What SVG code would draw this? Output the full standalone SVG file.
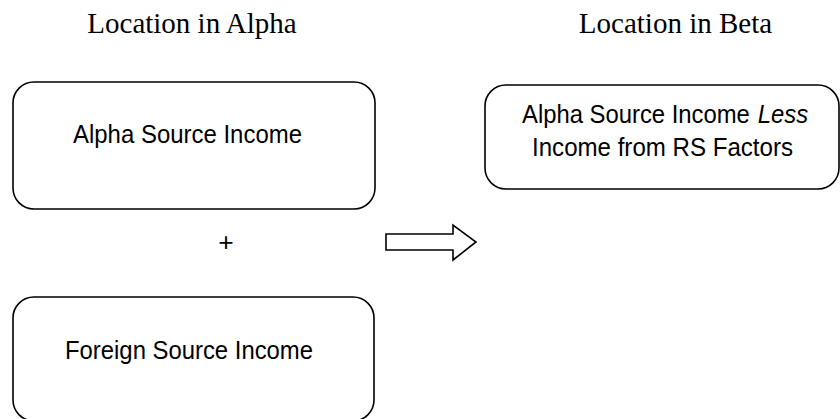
<svg xmlns="http://www.w3.org/2000/svg" width="840" height="419" viewBox="0 0 840 419">
<style>
.box{fill:#fff;stroke:#000;stroke-width:1.6}
.title{font-family:"Liberation Serif","Times New Roman",serif;font-size:29px;fill:#000;text-anchor:middle}
.lbl{font-family:"Liberation Sans",Arial,sans-serif;font-size:26.5px;fill:#000;text-anchor:middle}
.lbl.start{text-anchor:start}
.arrow{fill:#fff;stroke:#000;stroke-width:1.6;stroke-linejoin:miter}
</style>
<rect width="840" height="419" fill="#fff"/>
<g id="title-alpha"><text class="title" x="192" y="33">Location in Alpha</text></g>
<g id="title-beta"><text class="title" x="675.5" y="33">Location in Beta</text></g>
<g id="alpha-source">
<rect class="box" x="13" y="82" width="362" height="127" rx="21" ry="21"/>
<text class="lbl" x="187.5" y="142.5" textLength="229" lengthAdjust="spacingAndGlyphs">Alpha Source Income</text>
</g>
<g id="plus"><text class="lbl" x="226" y="251">+</text></g>
<g id="foreign-source">
<rect class="box" x="13" y="297" width="361" height="124" rx="21" ry="21"/>
<text class="lbl" x="189" y="359" textLength="248" lengthAdjust="spacingAndGlyphs">Foreign Source Income</text>
</g>
<g id="beta-income">
<rect class="box" x="485" y="85" width="354" height="104" rx="21" ry="21"/>
<g transform="translate(522 123) scale(0.9 1)">
<text class="lbl start" x="0" y="0">Alpha Source Income</text>
<text class="lbl start" x="262" y="0" font-style="italic">Less</text>
</g>
<text class="lbl" x="662.5" y="156" textLength="261" lengthAdjust="spacingAndGlyphs">Income from RS Factors</text>
</g>
<g id="connectors">
<polygon class="arrow" points="386,234 453,234 453,225 476,242 453,260 453,250 386,250"/>
</g>
</svg>
